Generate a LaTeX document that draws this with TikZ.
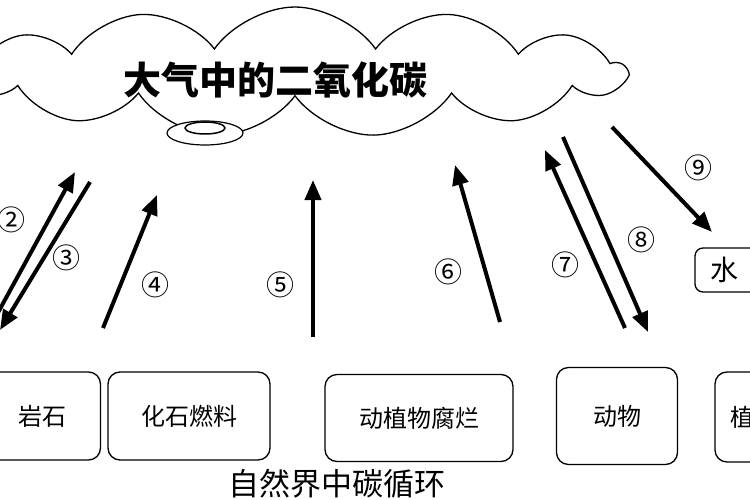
\documentclass[tikz,border=0pt]{standalone}
\usepackage{fontspec}
\setmainfont{Noto Sans CJK SC}
\usetikzlibrary{shapes.symbols,shapes.geometric,arrows.meta}
\begin{document}
\begin{tikzpicture}[x=1pt,y=-1pt,
  box/.style={draw,line width=1.3pt,rounded corners=12pt,font=\fontsize{24}{26}\selectfont},
  arr/.style={line width=4pt,-{Triangle[length=20pt,width=16pt]}},
  lab/.style={font=\fontsize{28}{30}\selectfont}]
\useasboundingbox (0,0) rectangle (750,500);
\clip (0,0) rectangle (750,500);
\node[draw,cloud,cloud puffs=13,cloud puff arc=110,aspect=5,minimum width=660,minimum height=130,line width=1.3pt] (cloud) at (295,72) {};
\node[font=\fontsize{38}{40}\selectfont\bfseries] (t) at (275,80) {大气中的二氧化碳};
\node[draw,ellipse,fill=white,minimum width=76,minimum height=24,line width=1.2pt] (e1) at (205,133) {};
\node[draw,ellipse,minimum width=40,minimum height=12,line width=1.5pt] (e2) at (205,128) {};
\node[box,minimum width=115,minimum height=88] (b1) at (43,416) {岩石};
\node[box,minimum width=162,minimum height=88] (b2) at (189,416) {化石燃料};
\node[box,minimum width=188,minimum height=87] (b3) at (419,418) {动植物腐烂};
\node[box,minimum width=121,minimum height=97] (b4) at (617,416) {动物};
\node[box,minimum width=80,minimum height=90,align=left,text width=50] (b5) at (755,417) {植};
\node[box,minimum width=80,minimum height=44,rounded corners=8pt,text width=50,font=\fontsize{28}{30}\selectfont] (b6) at (735,270) {水};
\node[font=\fontsize{31}{33}\selectfont] (cap) at (337,484) {自然界中碳循环};
\coordinate (a2s) at (-5,318); \coordinate (a2e) at (75,172);
\coordinate (a3s) at (90,182); \coordinate (a3e) at (0,330);
\coordinate (a4s) at (103,328); \coordinate (a4e) at (157,195);
\coordinate (a5s) at (313,337); \coordinate (a5e) at (313,180);
\coordinate (a6s) at (500,322); \coordinate (a6e) at (455,165);
\coordinate (a7s) at (625,328); \coordinate (a7e) at (545,150);
\coordinate (a8s) at (563,137); \coordinate (a8e) at (648,332);
\coordinate (a9s) at (612,127); \coordinate (a9e) at (712,232);
\foreach \i in {2,...,9} \draw[arr] (a\i s) -- (a\i e);
\node[lab] (l2) at (12,220) {②};
\node[lab] (l3) at (66,258) {③};
\node[lab] (l4) at (155,285) {④};
\node[lab] (l5) at (280,285) {⑤};
\node[lab] (l6) at (448,272) {⑥};
\node[lab] (l7) at (565,265) {⑦};
\node[lab] (l8) at (641,240) {⑧};
\node[lab] (l9) at (698,168) {⑨};
\end{tikzpicture}
\end{document}
